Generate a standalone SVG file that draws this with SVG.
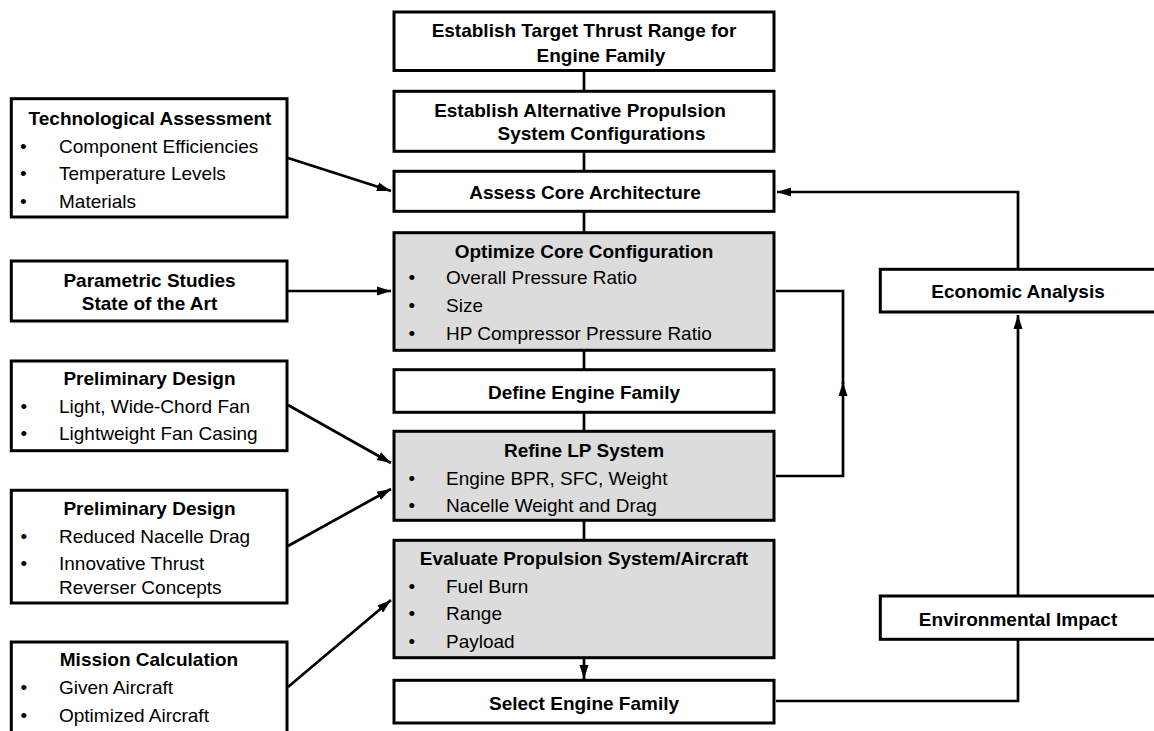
<svg xmlns="http://www.w3.org/2000/svg" width="1154" height="731" viewBox="0 0 1154 731">
  <style>
    .box { fill: #ffffff; stroke: #000000; stroke-width: 3; }
    .shade { fill: #dcdcdc; }
    .title { font-family: "Liberation Sans", Arial, Helvetica, sans-serif; font-size: 19px; font-weight: bold; fill: #000000; text-anchor: middle; }
    .item { font-family: "Liberation Sans", Arial, Helvetica, sans-serif; font-size: 19px; fill: #000000; }
    .wire { fill: none; stroke: #000000; stroke-width: 2.7; }
  </style>
  <defs>
    <marker id="head" markerUnits="userSpaceOnUse" markerWidth="15" markerHeight="10" refX="14" refY="5" orient="auto">
      <path d="M0,0.5 L14,5 L0,9.5 z" fill="#000000"/>
    </marker>
  </defs>

  <rect width="1154" height="731" fill="#ffffff"/>

  <!-- connectors -->
  <g id="connectors">
    <!-- main spine -->
    <path class="wire" d="M584,72 V91 M584,152 V171 M584,212 V233 M584,351 V370 M584,413 V431 M584,521 V540"/>
    <path class="wire" d="M584,658 V679" marker-end="url(#head)"/>
    <!-- side inputs -->
    <path class="wire" d="M288,158 L391,191" marker-end="url(#head)"/>
    <path class="wire" d="M288,291 L391,291" marker-end="url(#head)"/>
    <path class="wire" d="M288,405 L391,463" marker-end="url(#head)"/>
    <path class="wire" d="M288,546 L391,489" marker-end="url(#head)"/>
    <path class="wire" d="M288,687 L391,600" marker-end="url(#head)"/>
    <!-- LP system feedback to core configuration -->
    <path class="wire" d="M776,476 H843 V382" marker-end="url(#head)"/>
    <path class="wire" d="M843,384 V291 H776"/>
    <!-- right-hand loop -->
    <path class="wire" d="M776,701 H1018 V640"/>
    <path class="wire" d="M1018,596 V315" marker-end="url(#head)"/>
    <path class="wire" d="M1018,269 V192 H777" marker-end="url(#head)"/>
  </g>

  <!-- central process column -->
  <g id="target-thrust">
    <rect class="box" x="394" y="12" width="380" height="58.5"/>
    <text class="title" x="584" y="37">Establish Target Thrust Range for</text>
    <text class="title" x="601" y="62">Engine Family</text>
  </g>
  <g id="alt-configs">
    <rect class="box" x="394" y="91.3" width="380" height="60"/>
    <text class="title" x="580" y="117">Establish Alternative Propulsion</text>
    <text class="title" x="601.5" y="140">System Configurations</text>
  </g>
  <g id="assess-core">
    <rect class="box" x="394" y="171.3" width="380" height="40"/>
    <text class="title" x="585" y="199">Assess Core Architecture</text>
  </g>
  <g id="optimize-core">
    <rect class="box shade" x="394" y="232.7" width="380" height="117.6"/>
    <text class="title" x="584" y="258">Optimize Core Configuration</text>
    <text class="item" x="408.5" y="284">•</text>
    <text class="item" x="446" y="284">Overall Pressure Ratio</text>
    <text class="item" x="408.5" y="312">•</text>
    <text class="item" x="446" y="312">Size</text>
    <text class="item" x="408.5" y="340">•</text>
    <text class="item" x="446" y="340">HP Compressor Pressure Ratio</text>
  </g>
  <g id="define-family">
    <rect class="box" x="394" y="369.7" width="380" height="42.6"/>
    <text class="title" x="584" y="399">Define Engine Family</text>
  </g>
  <g id="refine-lp">
    <rect class="box shade" x="394" y="431.3" width="380" height="89"/>
    <text class="title" x="584" y="456.5">Refine LP System</text>
    <text class="item" x="408.5" y="485">•</text>
    <text class="item" x="446" y="485">Engine BPR, SFC, Weight</text>
    <text class="item" x="408.5" y="511.5">•</text>
    <text class="item" x="446" y="511.5">Nacelle Weight and Drag</text>
  </g>
  <g id="evaluate">
    <rect class="box shade" x="394" y="540.3" width="380" height="117.4"/>
    <text class="title" x="584" y="565">Evaluate Propulsion System/Aircraft</text>
    <text class="item" x="408.5" y="592.5">•</text>
    <text class="item" x="446" y="592.5">Fuel Burn</text>
    <text class="item" x="408.5" y="620">•</text>
    <text class="item" x="446" y="620">Range</text>
    <text class="item" x="408.5" y="647.5">•</text>
    <text class="item" x="446" y="647.5">Payload</text>
  </g>
  <g id="select-family">
    <rect class="box" x="394" y="680.3" width="380" height="42.7"/>
    <text class="title" x="584" y="710">Select Engine Family</text>
  </g>

  <!-- inputs on the left -->
  <g id="tech-assessment">
    <rect class="box" x="11.3" y="98.7" width="275.7" height="118.3"/>
    <text class="title" x="150" y="125">Technological Assessment</text>
    <text class="item" x="20" y="152.5">•</text>
    <text class="item" x="59" y="152.5">Component Efficiencies</text>
    <text class="item" x="20" y="179.5">•</text>
    <text class="item" x="59" y="179.5">Temperature Levels</text>
    <text class="item" x="20" y="207.5">•</text>
    <text class="item" x="59" y="207.5">Materials</text>
  </g>
  <g id="parametric">
    <rect class="box" x="11.3" y="261" width="275.7" height="60"/>
    <text class="title" x="149.5" y="286.5">Parametric Studies</text>
    <text class="title" x="149.5" y="310">State of the Art</text>
  </g>
  <g id="prelim-fan">
    <rect class="box" x="11.3" y="361" width="275.7" height="89.7"/>
    <text class="title" x="149.5" y="385">Preliminary Design</text>
    <text class="item" x="20.5" y="412.5">•</text>
    <text class="item" x="59" y="412.5">Light, Wide-Chord Fan</text>
    <text class="item" x="20.5" y="439.5">•</text>
    <text class="item" x="59" y="439.5">Lightweight Fan Casing</text>
  </g>
  <g id="prelim-nacelle">
    <rect class="box" x="11.3" y="490.3" width="275.7" height="112.7"/>
    <text class="title" x="149.5" y="515">Preliminary Design</text>
    <text class="item" x="20.5" y="542.5">•</text>
    <text class="item" x="59" y="542.5">Reduced Nacelle Drag</text>
    <text class="item" x="20.5" y="570">•</text>
    <text class="item" x="59" y="570">Innovative Thrust</text>
    <text class="item" x="59" y="593.5">Reverser Concepts</text>
  </g>
  <g id="mission">
    <rect class="box" x="11.3" y="642" width="275.7" height="100"/>
    <text class="title" x="149" y="666">Mission Calculation</text>
    <text class="item" x="20.5" y="693.5">•</text>
    <text class="item" x="59" y="693.5">Given Aircraft</text>
    <text class="item" x="20.5" y="721.5">•</text>
    <text class="item" x="59" y="721.5">Optimized Aircraft</text>
  </g>

  <!-- analyses on the right -->
  <g id="economic">
    <rect class="box" x="880.3" y="269.3" width="300" height="42.7"/>
    <text class="title" x="1018" y="298">Economic Analysis</text>
  </g>
  <g id="environmental">
    <rect class="box" x="880.3" y="596" width="300" height="43.3"/>
    <text class="title" x="1018" y="625.5">Environmental Impact</text>
  </g>
</svg>
